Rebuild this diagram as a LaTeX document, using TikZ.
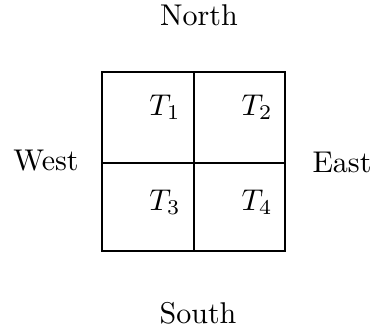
\documentclass[tikz,border=0pt]{standalone}
\usepackage{tikz}
\usetikzlibrary{positioning}

\begin{document}
\begin{tikzpicture}[x=0.333pt,y=-0.333pt]
    \useasboundingbox (0,0) rectangle (374,333);
    \tikzset{lbl/.style={inner sep=0pt}}
    % grid of four cells
    \coordinate (nw) at (102,72);
    \coordinate (se) at (285,251);
    \coordinate (ntop) at (194,72);
    \coordinate (nbot) at (194,251);
    \coordinate (wmid) at (102,163);
    \coordinate (emid) at (285,163);
    \draw[line width=0.7pt] (nw) rectangle (se);
    \draw[line width=0.7pt] (ntop) -- (nbot);
    \draw[line width=0.7pt] (wmid) -- (emid);
    \foreach \x/\y/\i in {165/107/1,257/107/2,165/202/3,257/202/4} {
        \node[lbl] (t\i) at (\x,\y) {$T_{\i}$};
    }
    \node[lbl] (north) at (199,15) {North};
    \node[lbl] (south) at (198,313) {South};
    \node[lbl] (west) at (46,161) {West};
    \node[lbl] (east) at (342,162) {East};
\end{tikzpicture}
\end{document}
